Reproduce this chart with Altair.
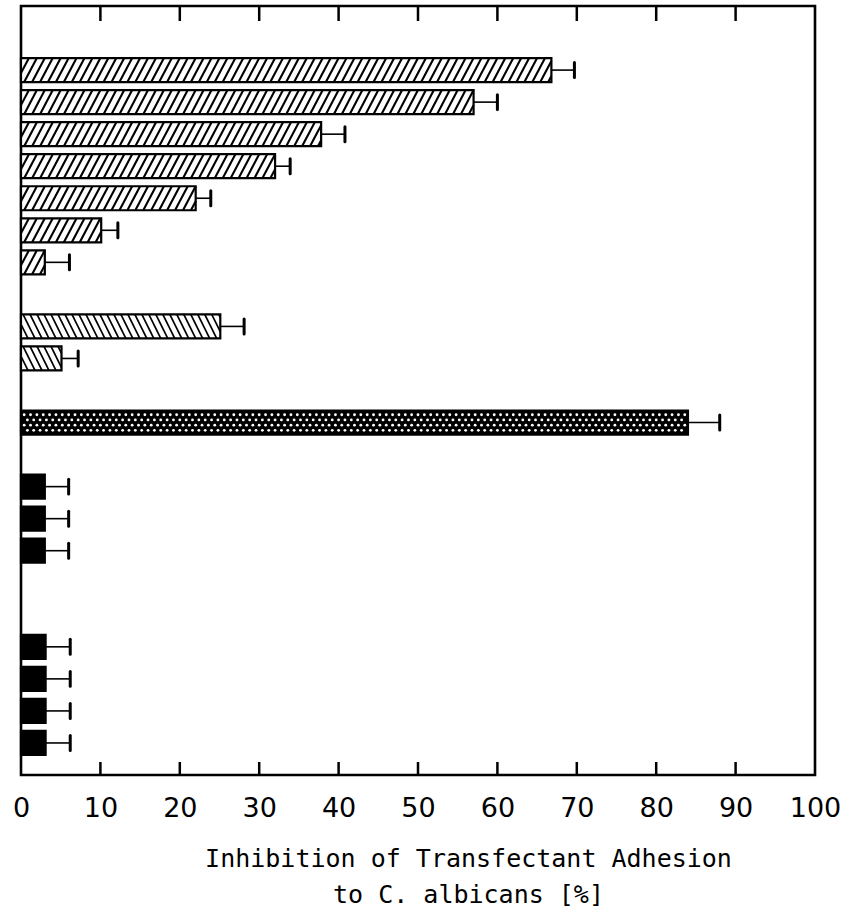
import numpy as np
import pandas as pd
import altair as alt

# Inhibition of transfectant adhesion (%), bars listed top to bottom
groups = ["A"] * 7 + ["B"] * 2 + ["C"] + ["D"] * 3 + ["E"] * 4
inhibition = [66.8, 57.0, 37.8, 32.0, 22.0, 10.1, 3.0,
              25.1, 5.1,
              84.0,
              3.0, 3.0, 3.0,
              3.1, 3.1, 3.1, 3.1]
sd = [2.9, 3.0, 3.0, 1.9, 1.9, 2.1, 3.1,
      3.0, 2.1,
      4.0,
      3.0, 3.0, 3.0,
      3.1, 3.1, 3.1, 3.1]
x_ticks = [0, 10, 20, 30, 40, 50, 60, 70, 80, 90, 100]

# empty rows left between consecutive groups
gap_before = {"A": 0, "B": 1, "C": 1, "D": 1, "E": 2}
HALF = 0.375  # half bar thickness, in row units

slots, pos, prev = [], -1, None
for g in groups:
    pos += 1 + (gap_before[g] if g != prev else 0)
    slots.append(pos)
    prev = g

df = pd.DataFrame({"group": groups, "value": inhibition, "sd": sd, "row": slots})
df["top"] = df["row"] - HALF
df["bottom"] = df["row"] + HALF
df["zero"] = 0.0
df["hi"] = df["value"] + df["sd"]
df["cap_top"] = df["row"] - 0.234
df["cap_bottom"] = df["row"] + 0.234
df["fill"] = np.where(df["group"].isin(["A", "B"]), "white", "black")


def hatch_lines(sub, period, run, slant):
    """Diagonal hatch segments clipped to each bar."""
    out = []
    for r in sub.itertuples():
        h = r.bottom - r.top
        for b in np.arange(-run, r.value, period):
            t0 = max(0.0, -b / run)
            t1 = min(1.0, (r.value - b) / run)
            if t1 <= t0:
                continue
            if slant == "/":
                y0, y1 = r.bottom - h * t0, r.bottom - h * t1
            else:
                y0, y1 = r.top + h * t0, r.top + h * t1
            out.append({"x": b + run * t0, "x2": b + run * t1, "y": y0, "y2": y1})
    return pd.DataFrame(out)


def dot_grid(sub, dx, offsets):
    """Staggered lattice of dots inside each bar."""
    out = []
    for r in sub.itertuples():
        for i, off in enumerate(offsets):
            start = dx / 2 if i % 2 == 0 else dx
            for x in np.arange(start, r.value - 0.25, dx):
                out.append({"x": x, "y": r.row + off})
    return pd.DataFrame(out)


hatch_a = hatch_lines(df[df.group == "A"], 1.0, 1.6, "/")
hatch_b = hatch_lines(df[df.group == "B"], 0.88, 1.5, "\\")
dots_c = dot_grid(df[df.group == "C"], 0.8, [-0.243, -0.081, 0.081, 0.243])

W, H = 794, 769
xs = alt.Scale(domain=[0, 100], nice=False, zero=False)
ys = alt.Scale(domain=[-2, 22], reverse=True, nice=False, zero=False)

x_axis = alt.Axis(
    values=x_ticks, ticks=False, domain=False, grid=False,
    labelFont="DejaVu Sans", labelFontSize=27, labelColor="black",
    labelPadding=20, labelFlush=False,
    title=["Inhibition of Transfectant Adhesion", "to C. albicans [%]"],
    titleFont="DejaVu Sans Mono", titleFontSize=25, titleFontWeight="normal",
    titleColor="black", titlePadding=25, titleLineHeight=36,
    titleX=447, titleAlign="center",
)


def X(field):
    return alt.X(field, scale=xs, axis=x_axis)


def Y(field):
    return alt.Y(field, scale=ys, axis=None)


base = alt.Chart(df)

bars = base.mark_rect(strokeWidth=0).encode(
    x=X("zero:Q"), x2="value:Q",
    y=Y("top:Q"), y2="bottom:Q",
    fill=alt.Fill("fill:N", scale=None),
)

lines_a = alt.Chart(hatch_a).mark_rule(color="black", strokeWidth=2.1).encode(
    x=X("x:Q"), x2="x2:Q", y=Y("y:Q"), y2="y2:Q",
)

lines_b = alt.Chart(hatch_b).mark_rule(color="black", strokeWidth=1.7).encode(
    x=X("x:Q"), x2="x2:Q", y=Y("y:Q"), y2="y2:Q",
)

dots = alt.Chart(dots_c).mark_circle(color="white", opacity=1, size=8).encode(
    x=X("x:Q"), y=Y("y:Q"),
)

outline = base.mark_rect(fill=None, stroke="black", strokeWidth=2.2).encode(
    x=X("zero:Q"), x2="value:Q",
    y=Y("top:Q"), y2="bottom:Q",
)

stems = base.mark_rule(color="black", strokeWidth=1.6).encode(
    x=X("value:Q"), x2="hi:Q", y=Y("row:Q"),
)

caps = base.mark_rule(color="black", strokeWidth=3, strokeCap="round").encode(
    x=X("hi:Q"), y=Y("cap_top:Q"), y2="cap_bottom:Q",
)

tick_df = pd.DataFrame({"t": x_ticks[1:-1]})
top_ticks = alt.Chart(tick_df).mark_rule(color="black", strokeWidth=2.5).encode(
    x=X("t:Q"), y=alt.value(0), y2=alt.value(15),
)
bottom_ticks = alt.Chart(tick_df).mark_rule(color="black", strokeWidth=2.5).encode(
    x=X("t:Q"), y=alt.value(H - 13), y2=alt.value(H),
)

chart = alt.layer(
    bars, lines_a, lines_b, dots, outline, stems, caps, top_ticks, bottom_ticks
).properties(
    width=W, height=H,
    padding={"left": 21, "top": 6, "right": 36, "bottom": 146},
    autosize=alt.AutoSizeParams(type="none"),
    background="white",
).configure_view(
    stroke="black", strokeWidth=2.6
)

chart.save("out.html", embed_options={"renderer": "svg", "actions": False})
